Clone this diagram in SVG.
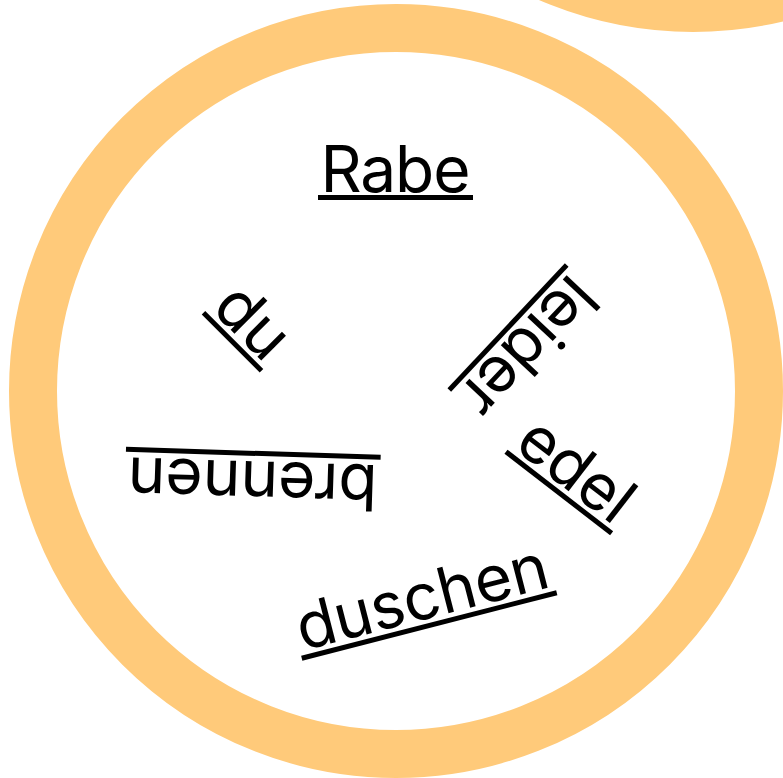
<svg xmlns="http://www.w3.org/2000/svg" width="783" height="778" viewBox="0 0 783 778">
<style>
.ring{fill:none;stroke:#FFCA7A;stroke-width:48}
.w{font-family:Inter,"Liberation Sans",sans-serif;font-size:64px;fill:#000;text-anchor:middle}
.ul{fill:#000}
</style>
<rect width="783" height="778" fill="#fff"/>
<g id="ring-main"><circle class="ring" cx="396" cy="391" r="363"/></g>
<g id="ring-corner"><circle class="ring" cx="693" cy="-355" r="363"/></g>
<g id="word-rabe" transform="translate(395.5,197.5)">
<text class="w" x="0" y="-6" textLength="150" lengthAdjust="spacing">Rabe</text>
<rect class="ul" x="-77.5" y="-2.5" width="155" height="5"/>
</g>
<g id="word-du" transform="translate(232.5,341.7) rotate(45)">
<text class="w" x="0" y="-7">du</text>
<rect class="ul" x="-41" y="-2.5" width="82" height="5"/>
</g>
<g id="word-leider" transform="translate(508,327.5) rotate(133.2)">
<text class="w" x="0" y="-7" textLength="166" lengthAdjust="spacing">leider</text>
<rect class="ul" x="-85.75" y="-2.5" width="171.5" height="5"/>
</g>
<g id="word-edel" transform="translate(558.8,492.5) rotate(37.7)">
<text class="w" x="0" y="-7" textLength="128" lengthAdjust="spacing">edel</text>
<rect class="ul" x="-66.75" y="-2.5" width="133.5" height="5"/>
</g>
<g id="word-brennen" transform="translate(253.3,453.3) rotate(181.8)">
<text class="w" x="0" y="-8" textLength="250" lengthAdjust="spacing">brennen</text>
<rect class="ul" x="-127.4" y="-2.5" width="254.8" height="5"/>
</g>
<g id="word-duschen" transform="translate(429.2,625.5) rotate(-14.4)">
<text class="w" x="0" y="-7" textLength="258" lengthAdjust="spacing">duschen</text>
<rect class="ul" x="-131.6" y="-2.5" width="263.3" height="5"/>
</g>
<g id="connectors"></g>
</svg>
